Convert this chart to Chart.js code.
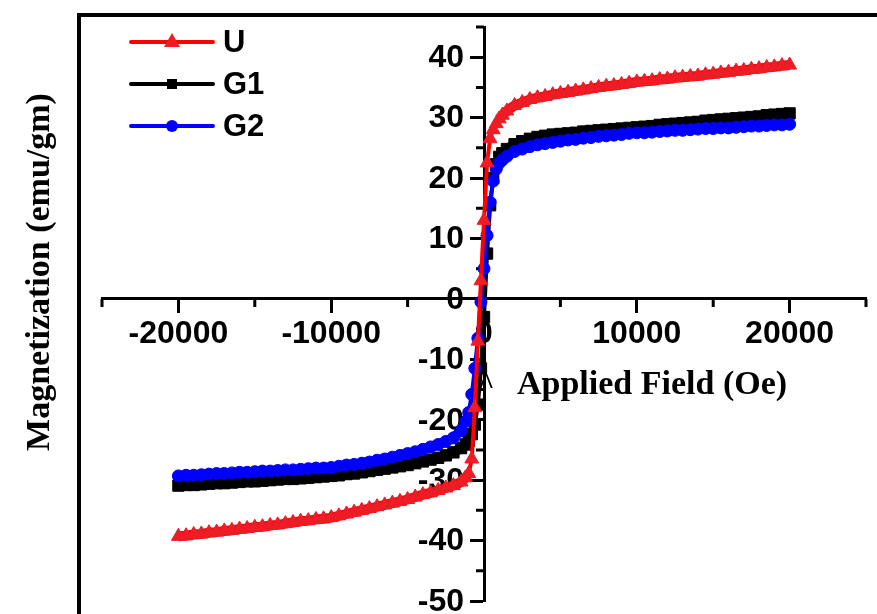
<!DOCTYPE html>
<html><head><meta charset="utf-8">
<script src="https://cdn.jsdelivr.net/npm/chart.js@4.4.1/dist/chart.umd.min.js"></script>
<style>html,body{margin:0;padding:0;background:#fff;}canvas{display:block;}</style>
</head><body>
<canvas id="c" width="877" height="614"></canvas>
<script>
// ---- data ----
const field = [-20000,-19500,-19000,-18500,-18000,-17500,-17000,-16500,-16000,-15500,-15000,-14500,-14000,-13500,-13000,-12500,-12000,-11500,-11000,-10500,-10000,-9500,-9000,-8500,-8000,-7500,-7000,-6500,-6000,-5500,-5000,-4500,-4000,-3500,-3000,
  -2500,-2000,-1500,-1200,-1000,-800,-600,-400,-200,0,200,400,600,800,1000,1200,1500,2000,2500,
  3000,3500,4000,4500,5000,5500,6000,6500,7000,7500,8000,8500,9000,9500,10000,10500,11000,11500,12000,12500,13000,13500,14000,14500,15000,15500,16000,16500,17000,17500,18000,18500,19000,19500,20000];

const seriesU = [-39.3,-39.2,-39.0,-38.9,-38.7,-38.6,-38.4,-38.3,-38.1,-38.0,-37.8,-37.7,-37.5,-37.4,-37.2,-37.0,-36.8,-36.7,-36.5,-36.4,-36.2,-35.9,-35.6,-35.3,-35.0,-34.7,-34.4,-34.1,-33.8,-33.5,-33.2,-32.8,-32.4,-32.1,-31.7,
  -31.3,-30.9,-30.3,-29.6,-28.9,-26.5,-18,-7,3,13,22.5,26.5,28.0,29.0,29.8,30.4,31.1,32.0,32.5,
  33.0,33.3,33.5,33.8,34.0,34.2,34.4,34.6,34.8,35.0,35.2,35.3,35.5,35.7,35.9,36.0,36.1,36.3,36.4,36.6,36.7,36.8,36.9,37.1,37.2,37.4,37.5,37.7,37.8,38.0,38.1,38.3,38.4,38.6,38.7];

const seriesG1 = [-30.9,-30.8,-30.8,-30.7,-30.6,-30.5,-30.5,-30.4,-30.3,-30.2,-30.2,-30.1,-30.0,-29.9,-29.8,-29.8,-29.7,-29.6,-29.5,-29.4,-29.3,-29.2,-29.0,-28.9,-28.7,-28.5,-28.3,-28.1,-27.9,-27.7,-27.5,-27.2,-26.9,-26.6,-26.3,
  -25.9,-25.4,-24.7,-24.1,-23.5,-22.4,-20.8,-17.5,-11.5,-3,7.5,15.5,20.0,22.3,23.5,24.1,24.8,25.6,26.1,
  26.5,26.8,27.0,27.2,27.3,27.4,27.5,27.7,27.8,27.9,28.0,28.1,28.2,28.3,28.4,28.5,28.6,28.8,28.9,29.0,29.1,29.2,29.3,29.5,29.6,29.7,29.8,29.9,30.0,30.1,30.2,30.4,30.5,30.6,30.7];

const seriesG2 = [-29.3,-29.2,-29.2,-29.1,-29.0,-28.9,-28.9,-28.8,-28.7,-28.7,-28.6,-28.5,-28.5,-28.4,-28.3,-28.3,-28.2,-28.1,-28.0,-28.0,-27.9,-27.7,-27.5,-27.4,-27.2,-27.0,-26.7,-26.5,-26.2,-25.9,-25.6,-25.3,-24.9,-24.5,-24.1,
  -23.6,-23.0,-21.8,-20.3,-18.8,-15.8,-11.5,-6.5,-0.5,5,10.5,16,19.5,21.5,22.5,23.0,23.6,24.4,24.8,
  25.2,25.5,25.7,25.9,26.1,26.3,26.4,26.6,26.7,26.9,27.0,27.1,27.2,27.4,27.5,27.5,27.6,27.7,27.8,27.9,27.9,28.0,28.1,28.2,28.2,28.3,28.3,28.4,28.5,28.6,28.6,28.7,28.8,28.8,28.9];

const seriesNames = ['U', 'G1', 'G2'];
const xTickLabels = [-20000, -10000, 0, 10000, 20000];
const yTickLabels = [40, 30, 20, 10, 0, -10, -20, -30, -40, -50];
const xTitle = 'Applied Field (Oe)';
const yTitle = 'Magnetization (emu/gm)';

// ---- styles ----
const TICK_FONT = {family: "'Liberation Sans', Arial, sans-serif", size: 32, weight: 'bold'};
const pts = s => field.map((h, i) => ({x: h, y: s[i]}));

const framePlugin = {
  id: 'frame',
  beforeDraw(chart) {
    const ctx = chart.ctx;
    ctx.save();
    ctx.fillStyle = '#fff';
    ctx.fillRect(0, 0, chart.width, chart.height);
    ctx.strokeStyle = '#000';
    ctx.lineWidth = 4;
    ctx.beginPath();
    ctx.moveTo(79, chart.height + 5);
    ctx.lineTo(79, 15);
    ctx.lineTo(chart.width + 5, 15);
    ctx.stroke();
    ctx.restore();
  }
};

// minor ticks and y tick labels (drawn beneath the curves, as in the reference)
const axisExtrasPlugin = {
  id: 'axisExtras',
  beforeDatasetsDraw(chart) {
    const ctx = chart.ctx, xs = chart.scales.x, ys = chart.scales.y;
    const x0 = xs.getPixelForValue(0), y0 = ys.getPixelForValue(0);
    ctx.save();
    ctx.strokeStyle = '#000';
    ctx.lineWidth = 3;
    ctx.beginPath();
    xs.ticks.forEach(t => {
      if (!xTickLabels.includes(t.value)) {
        const p = xs.getPixelForValue(t.value);
        ctx.moveTo(p, y0); ctx.lineTo(p, y0 + 8);
      }
    });
    ys.ticks.forEach(t => {
      if (!yTickLabels.includes(t.value)) {
        const p = ys.getPixelForValue(t.value);
        ctx.moveTo(x0, p); ctx.lineTo(x0 - 8, p);
      }
    });
    ctx.stroke();
    ctx.fillStyle = '#000';
    ctx.font = "bold 32px 'Liberation Sans', Arial, sans-serif";
    ctx.textAlign = 'right';
    ctx.textBaseline = 'middle';
    yTickLabels.forEach(v => {
      ctx.fillText(String(v), x0 - 20, ys.getPixelForValue(v) + 1);
    });
    ctx.restore();
  }
};

const titlesLegendPlugin = {
  id: 'titlesLegend',
  afterDraw(chart) {
    const ctx = chart.ctx;
    ctx.save();
    ctx.fillStyle = '#000';
    ctx.font = "bold 34px 'Liberation Serif', 'Times New Roman', serif";
    ctx.textAlign = 'left';
    ctx.textBaseline = 'alphabetic';
    ctx.fillText(xTitle, 517, 394);
    ctx.save();
    ctx.translate(49, 272);
    ctx.rotate(-Math.PI / 2);
    ctx.textAlign = 'center';
    ctx.fillText(yTitle, 0, 0);
    ctx.restore();
    ctx.font = "20px 'DejaVu Sans', sans-serif";
    ctx.textAlign = 'center';
    ctx.textBaseline = 'middle';
    ctx.fillText('\u039B', 486, 383);
    const rows = [42, 84, 126];
    chart.data.datasets.forEach((ds, i) => {
      const y = rows[i];
      ctx.strokeStyle = ds.borderColor;
      ctx.lineWidth = 4;
      ctx.lineCap = 'round';
      ctx.beginPath();
      ctx.moveTo(131, y); ctx.lineTo(213, y);
      ctx.stroke();
      ctx.fillStyle = ds.pointBackgroundColor;
      ctx.beginPath();
      if (ds.pointStyle === 'triangle') {
        ctx.moveTo(172, y - 9); ctx.lineTo(180, y + 5); ctx.lineTo(164, y + 5); ctx.closePath();
      } else if (ds.pointStyle === 'rect') {
        ctx.rect(167, y - 5, 10, 10);
      } else {
        ctx.arc(172, y, 6, 0, Math.PI * 2);
      }
      ctx.fill();
      ctx.fillStyle = '#000';
      ctx.font = "bold 31px 'Liberation Sans', Arial, sans-serif";
      ctx.textAlign = 'left';
      ctx.textBaseline = 'middle';
      ctx.fillText(ds.label, 223, y + 1);
    });
    ctx.restore();
  }
};

const zeroPad = s => { s.paddingLeft = 0; s.paddingRight = 0; s.paddingTop = 0; s.paddingBottom = 0; };
// thick line where the curve is flat (dense overlapping markers), thin on the steep switching part
const segWidth = c => Math.abs(c.p1.y - c.p0.y) > 1.5 * Math.abs(c.p1.x - c.p0.x) ? 4 : 10;

new Chart(document.getElementById('c'), {
  type: 'line',
  data: {
    datasets: [
      {label: seriesNames[0], data: pts(seriesU), borderColor: '#ff0000', backgroundColor: '#ee1c25',
       pointBackgroundColor: '#ee1c25', pointBorderColor: '#ee1c25', pointStyle: 'triangle', pointRadius: 8, order: 1},
      {label: seriesNames[1], data: pts(seriesG1), borderColor: '#000000', backgroundColor: '#000000',
       pointBackgroundColor: '#000000', pointBorderColor: '#000000', pointStyle: 'rect', pointRadius: 8, order: 3},
      {label: seriesNames[2], data: pts(seriesG2), borderColor: '#0000ff', backgroundColor: '#0000ff',
       pointBackgroundColor: '#0000ff', pointBorderColor: '#0000ff', pointStyle: 'circle', pointRadius: 6, order: 2}
    ].map(d => Object.assign(d, {borderWidth: 4, pointBorderWidth: 1, tension: 0, fill: false, clip: false,
                                 segment: {borderWidth: segWidth}}))
  },
  options: {
    responsive: false,
    animation: false,
    devicePixelRatio: 1,
    layout: {padding: {left: 102, right: 11, top: 27, bottom: 13}},
    plugins: {legend: {display: false}, tooltip: {enabled: false}, title: {display: false}},
    scales: {
      x: {
        type: 'linear', min: -25000, max: 25000, position: {y: 0},
        afterFit: zeroPad,
        border: {display: true, color: '#000', width: 3},
        grid: {display: true, drawOnChartArea: false, drawTicks: true, tickLength: 13, tickWidth: 3,
               tickColor: c => xTickLabels.includes(c.tick.value) ? '#000' : 'rgba(0,0,0,0)'},
        ticks: {stepSize: 5000, autoSkip: false, maxRotation: 0, padding: 3, color: '#000', font: TICK_FONT,
                callback: v => xTickLabels.includes(v) ? String(v) : ''}
      },
      y: {
        type: 'linear', min: -50, max: 45, position: {x: 0},
        afterFit: zeroPad,
        border: {display: true, color: '#000', width: 3},
        grid: {display: true, drawOnChartArea: false, drawTicks: true, tickLength: 13, tickWidth: 3,
               tickColor: c => yTickLabels.includes(c.tick.value) ? '#000' : 'rgba(0,0,0,0)'},
        ticks: {stepSize: 5, autoSkip: false, display: false}
      }
    }
  },
  plugins: [framePlugin, axisExtrasPlugin, titlesLegendPlugin]
});
</script>
</body></html>
